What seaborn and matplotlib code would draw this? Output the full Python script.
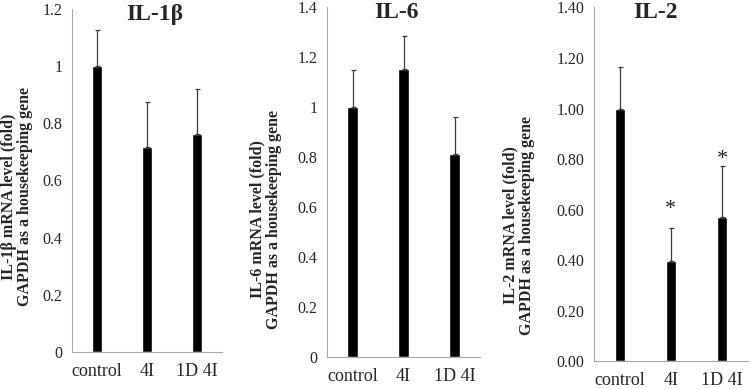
import matplotlib
matplotlib.use("Agg")
import matplotlib.pyplot as plt
import seaborn as sns
import pandas as pd

# groups on the x axis
groups = ["control", "4I", "1D 4I"]

# mean fold change and upper error (SD)
il1b_mean = [1.0, 0.717, 0.761]
il1b_err = [0.127, 0.157, 0.160]
il6_mean = [1.0, 1.152, 0.811]
il6_err = [0.150, 0.131, 0.151]
il2_mean = [1.0, 0.396, 0.571]
il2_err = [0.166, 0.131, 0.201]

titles = ["IL-1β", "IL-6", "IL-2"]
ylabels = ["IL-1β mRNA level (fold)\nGAPDH as a housekeeping gene",
           "IL-6 mRNA level (fold)\nGAPDH as a housekeeping gene",
           "IL-2 mRNA level (fold)\nGAPDH as a housekeeping gene"]
ytick_vals = [[0, 0.2, 0.4, 0.6, 0.8, 1.0, 1.2],
              [0, 0.2, 0.4, 0.6, 0.8, 1.0, 1.2, 1.4],
              [0, 0.2, 0.4, 0.6, 0.8, 1.0, 1.2, 1.4]]
ytick_labels = [["0", "0.2", "0.4", "0.6", "0.8", "1", "1.2"],
                ["0", "0.2", "0.4", "0.6", "0.8", "1", "1.2", "1.4"],
                ["0.00", "0.20", "0.40", "0.60", "0.80", "1.00", "1.20", "1.40"]]

# significance marks on IL-2
star_groups = ["4I", "1D 4I"]
star_y = [0.60, 0.80]

sns.set_style("white")
plt.rcParams['font.family'] = ['Liberation Serif', 'DejaVu Serif']

fig = plt.figure(figsize=(7.5, 3.89), dpi=100)
positions = [[0.096, 0.095, 0.200, 0.882],
             [0.436, 0.082, 0.204, 0.900],
             [0.792, 0.071, 0.205, 0.910]]
title_x = [0.55, 0.455, 0.40]
label_pos = [(-0.365, 0.452), (-0.40, 0.394), (-0.49, 0.385)]

means = [il1b_mean, il6_mean, il2_mean]
errs = [il1b_err, il6_err, il2_err]
grey = "#a6a6a6"

for i in range(3):
    ax = fig.add_axes(positions[i])
    df = pd.DataFrame({"group": groups, "value": means[i]})
    sns.barplot(data=df, x="group", y="value", color="black", width=0.2,
                saturation=1, ax=ax, errorbar=None)
    ax.errorbar(range(3), means[i], yerr=[[0, 0, 0], errs[i]], fmt="none",
                ecolor="#3a3a3a", elinewidth=0.9, capsize=1.8, capthick=0.9)
    ax.set_ylim(0, ytick_vals[i][-1])
    ax.set_xlim(-0.5, 2.5)
    ax.set_yticks(ytick_vals[i])
    ax.set_yticklabels(ytick_labels[i], fontsize=11.5)
    ax.set_xticks(range(3))
    ax.set_xticklabels(groups, fontsize=13)
    ax.set_xticks([-0.5, 0.5, 1.5, 2.5], minor=True)
    ax.tick_params(axis="x", which="major", length=0, pad=8)
    ax.tick_params(axis="x", which="minor", length=4, color=grey, width=0.8, direction="out")
    ax.tick_params(axis="y", length=4, color=grey, width=0.8, direction="out", pad=3)
    ax.set_xlabel("")
    ax.set_ylabel("")
    sns.despine(ax=ax)
    for s in ["left", "bottom"]:
        ax.spines[s].set_color(grey)
        ax.spines[s].set_linewidth(0.8)
    ax.text(title_x[i], 0.985, titles[i], transform=ax.transAxes, ha="center",
            va="center", fontsize=17, fontweight="bold")
    ax.text(label_pos[i][0], label_pos[i][1], ylabels[i], transform=ax.transAxes,
            rotation=90, ha="center", va="center", multialignment="center",
            fontsize=11.5, fontweight="bold", linespacing=1.0)
    if i == 2:
        for g, y in zip(star_groups, star_y):
            ax.text(groups.index(g), y, "*", ha="center", va="center", fontsize=16)

fig.savefig("out.png", dpi=100)
